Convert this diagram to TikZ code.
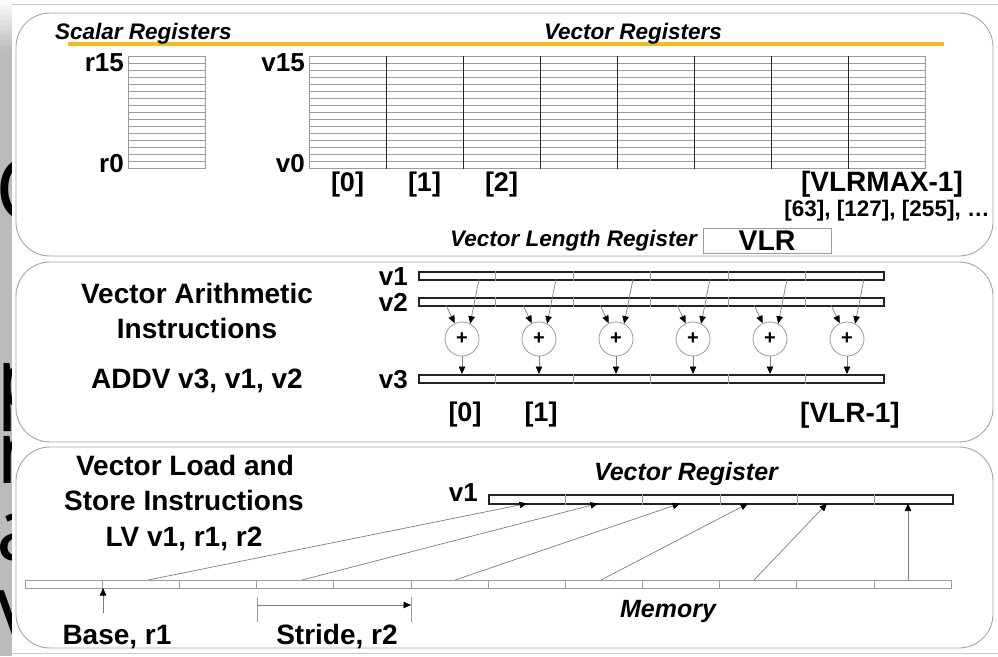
\documentclass[tikz,border=0pt]{standalone}
\usepackage{fontspec}
\setmainfont{Liberation Sans}
\newfontfamily\slidefont{Open Sans}
\usetikzlibrary{arrows.meta,calc}
\definecolor{gold}{RGB}{247,186,24}
\definecolor{panelgray}{RGB}{165,165,165}
\definecolor{stripgray}{RGB}{187,187,187}
\definecolor{gridgray}{RGB}{155,155,155}
\definecolor{darkline}{RGB}{35,35,35}
\definecolor{arrowgray}{RGB}{125,125,125}
\begin{document}
\begin{tikzpicture}[x=1pt,y=-1pt,
  panel/.style={draw=panelgray, line width=0.9pt, rounded corners=34pt},
  lbl/.style={font=\fontsize{28}{30}\selectfont\bfseries, inner sep=0pt, anchor=base},
  reglbl/.style={font=\fontsize{26}{28}\selectfont\bfseries, inner sep=0pt, anchor=base east},
  idx/.style={font=\fontsize{27}{29}\selectfont\bfseries, inner sep=0pt, anchor=base},
  headtxt/.style={font=\fontsize{22.5}{24}\selectfont\bfseries\itshape, inner sep=0pt},
  arr/.style={-{Triangle[length=7.5pt,width=6.5pt,black]}},
  feed/.style={draw=arrowgray, line width=0.7pt, arr},
  regbar/.style={draw=darkline, line width=1.6pt, fill=white, inner sep=0pt, anchor=north west},
  cellsep/.style={draw=gridgray, line width=0.7pt},
  gridline/.style={draw=gridgray, line width=0.8pt},
  adder/.style={circle, draw=gridgray, line width=0.8pt, minimum size=34pt, inner sep=0pt, font=\fontsize{20}{20}\selectfont\bfseries},
  slide/.style={font=\slidefont\fontsize{88}{90}\selectfont, inner sep=0pt, anchor=base west}
]
\useasboundingbox (0,0) rectangle (998,656);
\fill[white] (0,0) rectangle (998,656);
% left strip of the slide behind
\fill[stripgray] (0,50) rectangle (12,656);
\foreach \i in {0,...,9}{
  \pgfmathtruncatemacro\p{10*\i+5}
  \fill[stripgray!\p!white] (0,{5*\i}) rectangle (12,{5*\i+5.3});
}
\begin{scope}
  \clip (0,0) rectangle (12,656);
  \node[slide] (sC) at (-5,220) {C};
  \node[slide] (sp) at (-4,410) {p};
  \node[slide] (sn) at (-4,483) {n};
  \node[slide] (sa) at (-4,560) {a};
  \node[slide] (sV) at (-4,653) {V};
\end{scope}
% the diagram lies over the rest of the slide
\fill[white] (12,0) rectangle (120,656);
\draw[panelgray!60, line width=0.6pt] (12,4) -- (998,4);
\draw[panelgray!60, line width=0.6pt] (12,653) -- (998,653);
% panels
\draw[panel] (16,13) rectangle (993,256);
\draw[panel] (16,262) rectangle (993,442);
\draw[panel] (16,447) rectangle (993,648);

% ---------- top panel ----------
\draw[gold, line width=3.5pt] (68,44) -- (944,44);
\node[headtxt, anchor=base west] (scalh) at (55,39) {Scalar Registers};
\node[headtxt, anchor=base] (vech) at (633,39) {Vector Registers};

\node[draw=gridgray, line width=0.8pt, minimum width=77pt, minimum height=112pt, inner sep=0pt, anchor=north west] (sreg) at (128,56) {};
\foreach \i in {1,...,15}{
  \draw[gridline] ($(sreg.north west)+(0,7*\i)$) -- ($(sreg.north east)+(0,7*\i)$);
}
\node[draw=gridgray, line width=0.8pt, minimum width=616pt, minimum height=112pt, inner sep=0pt, anchor=north west] (vreg) at (309,56) {};
\foreach \i in {1,...,15}{
  \draw[gridline] ($(vreg.north west)+(0,7*\i)$) -- ($(vreg.north east)+(0,7*\i)$);
}
\foreach \k in {1,...,7}{
  \draw[darkline, line width=1pt] ($(vreg.north west)+(77*\k,0)$) -- ($(vreg.south west)+(77*\k,0)$);
}
\node[reglbl] (r15) at (124,71) {r15};
\node[reglbl] (r0) at (124,172) {r0};
\node[reglbl] (v15) at (305,71) {v15};
\node[reglbl] (v0) at (305,172) {v0};
\node[idx] (i0) at (347.5,191) {[0]};
\node[idx] (i1) at (424.5,191) {[1]};
\node[idx] (i2) at (501.5,191) {[2]};
\node[lbl] (imax) at (882,191) {[VLRMAX-1]};
\node[font=\fontsize{22.5}{24}\selectfont\bfseries, inner sep=0pt, anchor=base] (isz) at (887,216) {[63], [127], [255], …};
\node[headtxt, anchor=base east] (vlrt) at (697,246) {Vector Length Register};
\node[draw=gridgray, line width=0.8pt, minimum width=128pt, minimum height=25pt, inner sep=0pt, font=\fontsize{28.5}{30}\selectfont\bfseries] (vlr) at (767,240.5) {VLR};

% ---------- middle panel ----------
\node[lbl] (va1) at (197,303) {Vector Arithmetic};
\node[lbl] (va2) at (197,338) {Instructions};
\node[lbl] (va3) at (197,388) {ADDV v3, v1, v2};

\node[regbar, minimum width=465pt, minimum height=8pt] (b1) at (418,271) {};
\node[regbar, minimum width=465pt, minimum height=8pt] (b2) at (418,297) {};
\node[regbar, minimum width=465pt, minimum height=8pt] (b3) at (418,374) {};
\foreach \b in {b1,b2,b3}{
  \foreach \k in {1,...,5}{
    \draw[cellsep] ($(\b.north west)+(77.5*\k,0)$) -- ($(\b.south west)+(77.5*\k,0)$);
  }
}
\node[reglbl] (lv1) at (408,285) {v1};
\node[reglbl] (lv2) at (408,311) {v2};
\node[reglbl] (lv3) at (408,388) {v3};

\foreach \k in {0,...,5}{
  \node[adder] (add\k) at ({462+77*\k},339) {+};
  \coordinate (sa\k) at ({479+77*\k},279);
  \coordinate (sb\k) at ({446+77*\k},305);
  \coordinate (ot\k) at ({462+77*\k},374);
  \draw[feed] (sa\k) -- (add\k.62);
  \draw[feed] (sb\k) -- (add\k.115);
  \draw[feed] (add\k.south) -- (ot\k);
}
\node[idx] (j0) at (465,421) {[0]};
\node[idx] (j1) at (541,421) {[1]};
\node[lbl] (jl) at (850,422) {[VLR-1]};

% ---------- bottom panel ----------
\node[lbl] (ls1) at (185,475) {Vector Load and};
\node[lbl] (ls2) at (184,510) {Store Instructions};
\node[lbl] (ls3) at (184,546) {LV v1, r1, r2};

\node[draw=gridgray, line width=0.7pt, minimum width=926pt, minimum height=8pt, inner sep=0pt, anchor=north west] (mem) at (25,580) {};
\foreach \k in {1,...,11}{
  \draw[cellsep] ($(mem.north west)+(77.17*\k,0)$) -- ($(mem.south west)+(77.17*\k,0)$);
}
\node[regbar, minimum width=464pt, minimum height=9pt] (vr) at (488,494) {};
\foreach \k in {1,...,5}{
  \draw[cellsep] ($(vr.north west)+(77.33*\k,0)$) -- ($(vr.south west)+(77.33*\k,0)$);
}
\node[reglbl] (lvr) at (478,501) {v1};
\node[headtxt, font=\fontsize{25}{27}\selectfont\bfseries\itshape, anchor=base] (vrt) at (686,480) {Vector Register};
\node[headtxt, font=\fontsize{25}{27}\selectfont\bfseries\itshape, anchor=base] (memt) at (668,617) {Memory};

\foreach \s/\t [count=\n] in {148/527, 302/598, 455/680, 601/748, 754/827, 908/908}{
  \coordinate (ms\n) at (\s,580);
  \coordinate (mt\n) at (\t,503.5);
  \draw[feed] (ms\n) -- (mt\n);
}
\coordinate (bs) at (103,613);
\coordinate (bt) at (103,588);
\draw[feed] (bs) -- (bt);
\node[lbl] (base) at (117,644) {Base, r1};
\coordinate (st1) at (257,597);
\coordinate (sb1) at (257,622);
\coordinate (st2) at (411,597);
\coordinate (sb2) at (411,622);
\draw[gridline] (st1) -- (sb1);
\draw[gridline] (st2) -- (sb2);
\coordinate (sl) at (257,605);
\coordinate (sr) at (411,605);
\draw[feed] (sl) -- (sr);
\node[lbl] (stride) at (337,644) {Stride, r2};
\end{tikzpicture}
\end{document}
